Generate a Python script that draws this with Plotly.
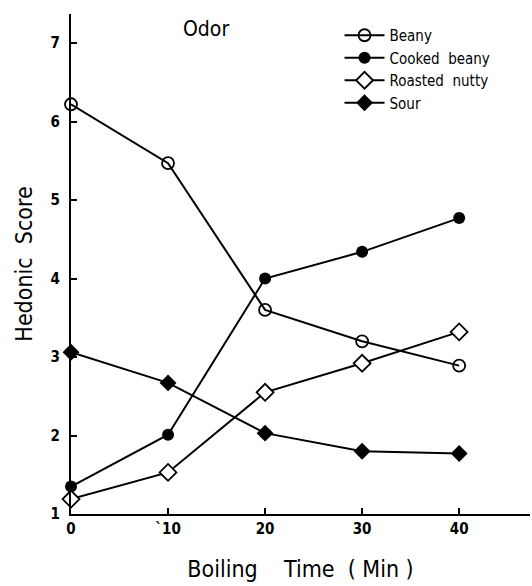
import plotly.graph_objects as go

boiling_time = [0, 10, 20, 30, 40]
beany = [6.22, 5.47, 3.60, 3.20, 2.89]
cooked_beany = [1.35, 2.01, 4.00, 4.34, 4.77]
roasted_nutty = [1.19, 1.53, 2.55, 2.92, 3.32]
sour = [3.06, 2.67, 2.03, 1.80, 1.77]

x_ticks = [0, 10, 20, 30, 40]
x_tick_labels = ["0", "`10", "20", "30", "40"]
y_ticks = [1, 2, 3, 4, 5, 6, 7]

FONT = "DejaVu Sans Condensed, DejaVu Sans, sans-serif"

series = [
    ("Beany", beany, dict(symbol="circle-open", size=12, color="black", line=dict(width=1.8, color="black"))),
    ("Cooked  beany", cooked_beany, dict(symbol="circle", size=12, color="black")),
    ("Roasted  nutty", roasted_nutty, dict(symbol="diamond", size=13, color="white", line=dict(width=1.8, color="black"))),
    ("Sour", sour, dict(symbol="diamond", size=13, color="black", line=dict(width=0))),
]

fig = go.Figure()
for name, vals, mk in series:
    fig.add_trace(go.Scatter(
        x=boiling_time, y=vals, name=name, mode="lines+markers",
        line=dict(color="black", width=2), marker=mk, cliponaxis=False,
    ))

fig.update_layout(
    width=532, height=586,
    margin=dict(l=71, r=2, t=14, b=72),
    paper_bgcolor="white", plot_bgcolor="white",
    font=dict(family=FONT, color="black"),
    showlegend=True,
    legend=dict(
        x=0.585, y=0.99, xanchor="left", yanchor="top",
        font=dict(size=15, family=FONT), bgcolor="rgba(0,0,0,0)",
        itemwidth=40, tracegroupgap=0,
    ),
    annotations=[dict(
        text="Odor", x=0.294, y=0.97, xref="paper", yref="paper",
        showarrow=False, font=dict(size=21, family=FONT), xanchor="center", yanchor="middle",
    )],
)

fig.update_xaxes(
    range=[0, 47.3], showgrid=False, zeroline=False,
    showline=True, linecolor="black", linewidth=2,
    ticks="inside", ticklen=6, tickwidth=1.5, tickcolor="black",
    tickvals=x_ticks, ticktext=x_tick_labels,
    tickfont=dict(size=15, family=FONT, weight="bold"),
    title=dict(text="Boiling    Time  ( Min )", font=dict(size=23, family=FONT), standoff=24),
)
fig.update_yaxes(
    range=[1, 7.37], showgrid=False, zeroline=False,
    showline=True, linecolor="black", linewidth=2,
    ticks="inside", ticklen=6, tickwidth=1.5, tickcolor="black",
    tickvals=y_ticks, tickfont=dict(size=15, family=FONT, weight="bold"), ticklabelstandoff=6,
    title=dict(text="Hedonic  Score", font=dict(size=23, family=FONT), standoff=12),
)

fig.write_html("out.html")
